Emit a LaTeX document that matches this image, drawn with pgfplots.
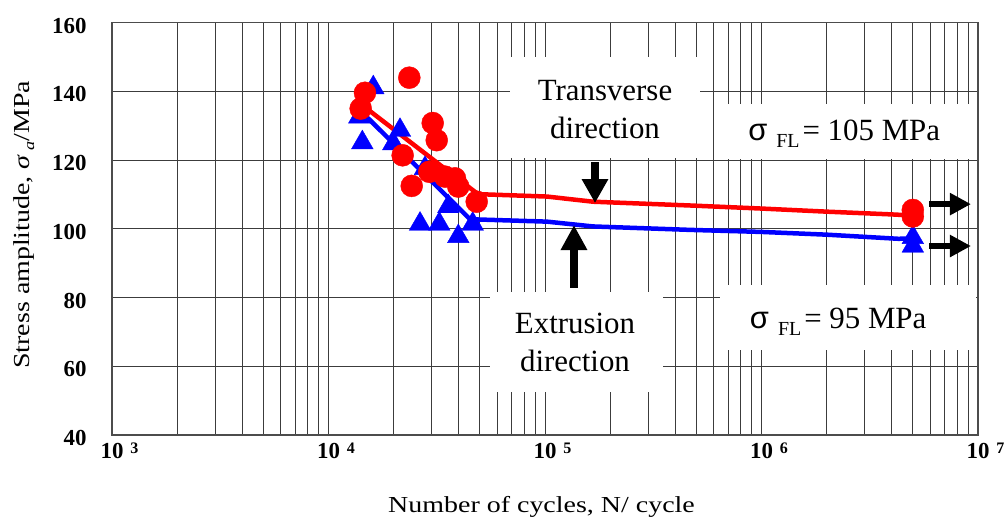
\documentclass[border=0pt]{standalone}
\usepackage{graphicx}
\usepackage{pgfplots}
\pgfplotsset{compat=1.18}
\usepackage{pgfplotstable}
\usetikzlibrary{arrows.meta}
\usepackage{fontspec}
\setmainfont{Liberation Serif}
\newfontfamily\sigmafont{Liberation Sans}
\newfontfamily\widefont[FakeStretch=1.22]{Liberation Serif}

\definecolor{tdred}{RGB}{255,0,0}
\definecolor{edblue}{RGB}{0,0,255}
\definecolor{gridgray}{RGB}{60,60,60}

% decade label: "10" centred on the tick, exponent hanging to the right
\newcommand{\expo}[1]{\scalebox{0.7}{\bfseries #1}}
\newcommand{\decade}[1]{\hphantom{\hspace{7bp}\expo{#1}}10\hspace{7bp}\raisebox{4.8bp}{\expo{#1}}}
\newcommand{\boxfont}{\fontsize{31}{38}\selectfont}
\newcommand{\sigmaFL}{{\sigmafont σ}\hspace{9bp}\raisebox{-7bp}{\fontsize{20}{20}\selectfont FL}\hspace{3bp}}

% transverse direction (circles)
\pgfplotstableread{
N       S
23620   144.0
14740   139.6
14080   135.0
30290   130.8
31610   125.8
22000   121.4
24230   112.5
29220   116.6
34520   115.2
38390   114.7
39770   112.3
48360   107.9
5.0e6   105.5
5.0e6   103.6
}\transverse

% extrusion direction (triangles)
\pgfplotstableread{
N       S
16100   141.1
13880   132.6
14330   125.1
21390   128.7
19920   124.8
27910   117.6
35770   106.5
26470   101.4
32490   101.4
46360   101.4
39770   97.8
5.0e6   97.5
5.0e6   95.0
}\extrusion

% S-N curves
\pgfplotstableread{
N        S
13980    136.5
49030    110.1
102100   109.4
166600   107.9
467500   106.8
1.005e6  105.9
2.007e6  105.0
4.0e6    104.2
4.6e6    104.0
}\transversecurve

\pgfplotstableread{
N        S
13730    135.0
45040    102.8
102100   102.1
166600   100.7
467500   99.7
1.005e6  99.1
2.007e6  98.3
4.3e6    97.1
4.7e6    97.2
5.0e6    97.6
}\extrusioncurve

\begin{document}
\begin{tikzpicture}
\fill[white] (-112bp,-86bp) rectangle (894bp,435bp);
\useasboundingbox (-112bp,-86bp) rectangle (894bp,435bp);
\begin{axis}[
  at={(0,0)}, anchor=south west,
  scale only axis,
  width=866bp, height=412.3bp,
  xmode=log, log basis x=10,
  xmin=1e3, xmax=1e7,
  ymin=40, ymax=160,
  xtick={1e3,1e4,1e5,1e6,1e7},
  minor xtick={2e3,3e3,4e3,5e3,6e3,7e3,8e3,9e3,
               2e4,3e4,4e4,5e4,6e4,7e4,8e4,9e4,
               2e5,3e5,4e5,5e5,6e5,7e5,8e5,9e5,
               2e6,3e6,4e6,5e6,6e6,7e6,8e6,9e6},
  xticklabels={\decade{3},\decade{4},\decade{5},\decade{6},\decade{7}},
  ytick={40,60,80,100,120,140,160},
  yticklabels={40,60,80,100,120,140,160},
  ticklabel style={font=\fontsize{23}{23}\selectfont\bfseries},
  yticklabel style={anchor=east, xshift=-22bp, yshift=-3bp},
  xticklabel style={anchor=north, yshift=-4.5bp},
  major tick length=0pt, minor tick length=0pt,
  xmajorgrids, xminorgrids, ymajorgrids,
  major grid style={gridgray, line width=0.9bp},
  minor grid style={gridgray, line width=0.9bp},
  axis line style={black!70, line width=1.6bp},
  xlabel={\widefont\fontsize{23}{23}\selectfont Number of cycles, N/ cycle},
  xlabel style={at={(rel axis cs:0.496,0)}, anchor=base, yshift=-77bp},
  ylabel={\widefont\fontsize{23}{23}\selectfont Stress amplitude, \textit{σ}\hspace{4bp}\raisebox{-5bp}{\fontsize{15}{15}\selectfont\textit{a}}/MPa},
  ylabel style={at={([xshift=-83bp]rel axis cs:0,0.51)}, anchor=base},
  clip=false,
]
% white label panels over the grid
\fill[white] (axis cs:68870,150.0) rectangle (axis cs:520000,120.6);
\fill[white] (axis cs:55720,81.5) rectangle (axis cs:350800,52.6);
\fill[white] (axis cs:609500,136.3) rectangle (axis cs:9.79e6,120.3);
\fill[white] (axis cs:642700,83.6) rectangle (axis cs:9.79e6,64.7);

\addplot[tdred, line width=4.5bp, no marks] table[x=N,y=S] {\transversecurve};
\addplot[edblue, line width=4.5bp, no marks] table[x=N,y=S] {\extrusioncurve};
\addplot[only marks, mark=triangle*, mark size=12.5bp,
  mark options={fill=edblue, draw=edblue}] table[x=N,y=S] {\extrusion};
\addplot[only marks, mark=*, mark size=11bp,
  mark options={fill=tdred, draw=tdred}] table[x=N,y=S] {\transverse};

% pointers to the curves and run-out arrows
\draw[black, line width=7.5bp, -{Triangle[length=24bp,width=25bp]}]
  (axis cs:170200,119.4) -- (axis cs:170200,107.5);
\draw[black, line width=7.5bp, -{Triangle[length=25bp,width=25bp]}]
  (axis cs:136100,82.8) -- (axis cs:136100,101.1);
\draw[black, line width=6.5bp, -{Triangle[length=21bp,width=21bp]}]
  (axis cs:5.94e6,107.2) -- (axis cs:9.28e6,107.2);
\draw[black, line width=6.5bp, -{Triangle[length=21bp,width=21bp]}]
  (axis cs:5.94e6,95.0) -- (axis cs:9.28e6,95.0);

\node[align=center, font=\boxfont] at (axis cs:189300,134.8) {Transverse\\direction};
\node[align=center, font=\boxfont] at (axis cs:137600,67.0) {Extrusion\\direction};
\node[font=\boxfont] at (axis cs:2.41e6,127.8) {\sigmaFL = 105 MPa};
\node[font=\boxfont] at (axis cs:2.26e6,73.0) {\sigmaFL = 95 MPa};
\end{axis}
\end{tikzpicture}
\end{document}
